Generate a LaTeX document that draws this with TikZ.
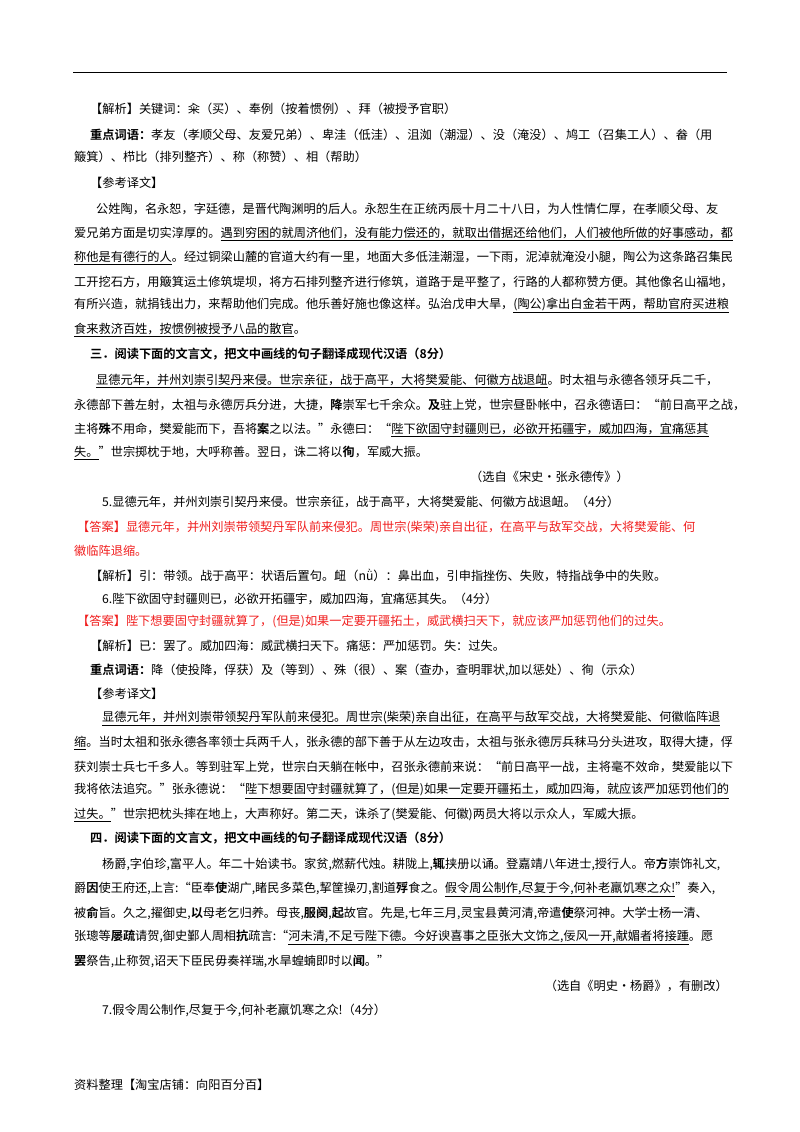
\documentclass[tikz,border=0pt]{standalone}
\usepackage{fontspec}
\setmainfont{Noto Sans CJK SC}[BoldFont={Noto Sans CJK SC Bold}]
\definecolor{ans}{RGB}{240,30,30}
\begin{document}
\begin{tikzpicture}[x=1pt,y=-1pt,
  ln/.style={anchor=west,inner sep=0pt,font=\fontsize{12.2}{14}\selectfont},
  hd/.style={ln,font=\fontsize{12.2}{14}\selectfont\bfseries},
  rd/.style={ln,text=ans}]
\useasboundingbox (0,0) rectangle (800,1132);
\coordinate (r1) at (73,72); \coordinate (r2) at (727,72);
\draw[line width=0.8pt] (r1) -- (r2);
\node[ln] (l1) at (90,109) {【解析】关键词：籴（买）、奉例（按着惯例）、拜（被授予官职）};
\node[ln] (l2) at (90,135) {\textbf{重点词语：}孝友（孝顺父母、友爱兄弟）、卑洼（低洼）、沮洳（潮湿）、没（淹没）、鸠工（召集工人）、畚（用};
\node[ln] (l3) at (74,157) {簸箕）、栉比（排列整齐）、称（称赞）、相（帮助）};
\node[ln] (l4) at (90,183) {【参考译文】};
\node[ln] (l5) at (96,209) {公姓陶，名永恕，字廷德，是晋代陶渊明的后人。永恕生在正统丙辰十月二十八日，为人性情仁厚，在孝顺父母、友};
\node[ln] (l6) at (74,234) {爱兄弟方面是切实淳厚的。\underline{遇到穷困的就周济他们，没有能力偿还的，就取出借据还给他们，人们被他所做的好事感动，都}};
\node[ln] (l7) at (74,258) {\underline{称他是有德行的人}。经过铜梁山麓的官道大约有一里，地面大多低洼潮湿，一下雨，泥淖就淹没小腿，陶公为这条路召集民};
\node[ln] (l8) at (74,282) {工开挖石方，用簸箕运土修筑堤坝，将方石排列整齐进行修筑，道路于是平整了，行路的人都称赞方便。其他像名山福地，};
\node[ln] (l9) at (74,305) {有所兴造，就捐钱出力，来帮助他们完成。他乐善好施也像这样。弘治戊申大旱，\underline{(陶公)拿出白金若干两，帮助官府买进粮}};
\node[ln] (l10) at (74,330) {\underline{食来救济百姓，按惯例被授予八品的散官}。};
\node[hd] (l11) at (90,354) {三．阅读下面的文言文，把文中画线的句子翻译成现代汉语（8分）};
\node[ln] (l12) at (96,381) {\underline{显德元年，并州刘崇引契丹来侵。世宗亲征，战于高平，大将樊爱能、何徽方战退衄}。时太祖与永德各领牙兵二千，};
\node[ln] (l13) at (74,405) {永德部下善左射，太祖与永德厉兵分进，大捷，\textbf{降}崇军七千余众。\textbf{及}驻上党，世宗昼卧帐中，召永德语曰：“前日高平之战，};
\node[ln] (l14) at (74,430) {主将\textbf{殊}不用命，樊爱能而下，吾将\textbf{案}之以法。”永德曰：“\underline{陛下欲固守封疆则已，必欲开拓疆宇，威加四海，宜痛惩其}};
\node[ln] (l15) at (74,453) {\underline{失。}”世宗掷枕于地，大呼称善。翌日，诛二将以\textbf{徇}，军威大振。};
\node[ln] (l16) at (470,477) {（选自《宋史·张永德传》）};
\node[ln] (l17) at (102,502) {5.显德元年，并州刘崇引契丹来侵。世宗亲征，战于高平，大将樊爱能、何徽方战退衄。（4分）};
\node[rd] (l18) at (77,527) {【答案】显德元年，并州刘崇带领契丹军队前来侵犯。周世宗(柴荣)亲自出征，在高平与敌军交战，大将樊爱能、何};
\node[rd] (l19) at (74,551) {徽临阵退缩。};
\node[ln] (l20) at (90,575) {【解析】引：带领。战于高平：状语后置句。衄（nǜ）：鼻出血，引申指挫伤、失败，特指战争中的失败。};
\node[ln] (l21) at (102,599) {6.陛下欲固守封疆则已，必欲开拓疆宇，威加四海，宜痛惩其失。（4分）};
\node[rd] (l22) at (77,622) {【答案】陛下想要固守封疆就算了，(但是)如果一定要开疆拓土，威武横扫天下，就应该严加惩罚他们的过失。};
\node[ln] (l23) at (90,646) {【解析】已：罢了。威加四海：威武横扫天下。痛惩：严加惩罚。失：过失。};
\node[ln] (l24) at (90,670) {\textbf{重点词语：}降（使投降，俘获）及（等到）、殊（很）、案（查办，查明罪状,加以惩处）、徇（示众）};
\node[ln] (l25) at (90,694) {【参考译文】};
\node[ln] (l26) at (102,718) {\underline{显德元年，并州刘崇带领契丹军队前来侵犯。周世宗(柴荣)亲自出征，在高平与敌军交战，大将樊爱能、何徽临阵退}};
\node[ln] (l27) at (74,743) {\underline{缩}。当时太祖和张永德各率领士兵两千人，张永德的部下善于从左边攻击，太祖与张永德厉兵秣马分头进攻，取得大捷，俘};
\node[ln] (l28) at (74,767) {获刘崇士兵七千多人。等到驻军上党，世宗白天躺在帐中，召张永德前来说：“前日高平一战，主将毫不效命，樊爱能以下};
\node[ln] (l29) at (74,791) {我将依法追究。”张永德说：“\underline{陛下想要固守封疆就算了，(但是)如果一定要开疆拓土，威加四海，就应该严加惩罚他们的}};
\node[ln] (l30) at (74,815) {\underline{过失。}”世宗把枕头摔在地上，大声称好。第二天，诛杀了(樊爱能、何徽)两员大将以示众人，军威大振。};
\node[hd] (l31) at (90,838) {四．阅读下面的文言文，把文中画线的句子翻译成现代汉语（8分）};
\node[ln] (l32) at (102,864) {杨爵,字伯珍,富平人。年二十始读书。家贫,燃薪代烛。耕陇上,\textbf{辄}挟册以诵。登嘉靖八年进士,授行人。帝\textbf{方}崇饰礼文,};
\node[ln] (l33) at (74,889) {爵\textbf{因}使王府还,上言:“臣奉\textbf{使}湖广,睹民多菜色,挈筐操刃,割道\textbf{殍}食之。\underline{假令周公制作,尽复于今,何补老羸饥寒之众!}”奏入,};
\node[ln] (l34) at (74,913) {被\textbf{俞}旨。久之,擢御史,\textbf{以}母老乞归养。母丧,\textbf{服阕},\textbf{起}故官。先是,七年三月,灵宝县黄河清,帝遣\textbf{使}祭河神。大学士杨一清、};
\node[ln] (l35) at (74,937) {张璁等\textbf{屡疏}请贺,御史鄞人周相\textbf{抗}疏言:“\underline{河未清,不足亏陛下德。今好谀喜事之臣张大文饰之,佞风一开,献媚者将接踵}。愿};
\node[ln] (l36) at (74,961) {\textbf{罢}祭告,止称贺,诏天下臣民毋奏祥瑞,水旱蝗蝻即时以\textbf{闻}。”};
\node[ln,anchor=east] (l37) at (728,986) {（选自《明史·杨爵》，有删改）};
\node[ln] (l38) at (102,1010) {7.假令周公制作,尽复于今,何补老羸饥寒之众!（4分）};
\node[ln] (l39) at (74,1085) {资料整理【淘宝店铺：向阳百分百】};
\end{tikzpicture}
\end{document}
